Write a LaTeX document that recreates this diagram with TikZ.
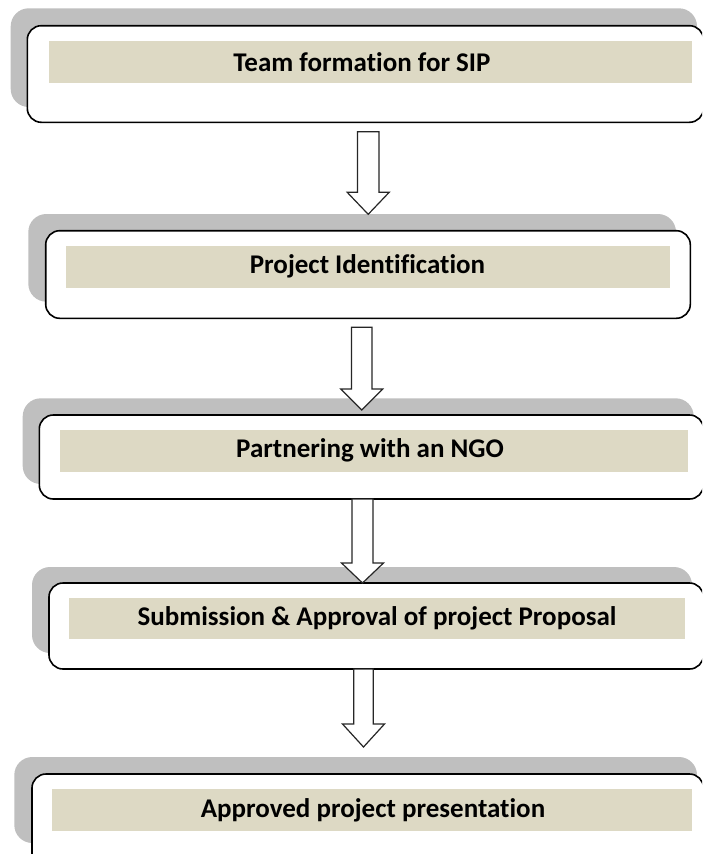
\documentclass[tikz,border=0pt]{standalone}
\usepackage{fontspec}
\setmainfont[Ligatures=NoCommon]{Carlito}
\usetikzlibrary{calc}
\definecolor{shade}{HTML}{BFBFBF}
\definecolor{band}{HTML}{DDD9C4}
\begin{document}
\begin{tikzpicture}[x=1pt,y=-1pt,
  shadowbox/.style={fill=shade, rounded corners=18pt},
  whitebox/.style={draw=black, line width=1.6pt, fill=white, rounded corners=14pt},
  bandbox/.style={fill=band, draw=none},
  steplabel/.style={font=\fontsize{27}{30}\selectfont\bfseries, text=black, inner sep=0pt},
  blockarrow/.style={draw=black!85, line width=1.2pt, fill=white, line join=miter}]
\useasboundingbox (0,0) rectangle (702,854);
\clip (0,0) rectangle (702,854);
\newcommand\blockdown[4]{% start, tip, head length, stem half
  \draw[blockarrow] let \p1=(#1), \p2=(#2) in
    (\x1-#4pt,\y1) -- (\x1+#4pt,\y1) -- (\x1+#4pt,\y2+#3pt) -- (\x1+21pt,\y2+#3pt)
    -- (\x2,\y2) -- (\x1-21pt,\y2+#3pt) -- (\x1-#4pt,\y2+#3pt) -- cycle;}
% ---------- box 1
\fill[shadowbox] (10.7,8.3) rectangle (697,107);
\draw[whitebox] (27.3,25.7) rectangle (703.5,122.3);
\node[bandbox, minimum width=643.7pt, minimum height=41.3pt, anchor=north west] (b1) at (48.3,41) {};
\node[steplabel] (t1) at (362,62) {Team formation for SIP};
% ---------- box 2
\fill[shadowbox] (28.3,214) rectangle (676,301.7);
\draw[whitebox] (45.7,230.7) rectangle (690.3,318.3);
\node[bandbox, minimum width=603.7pt, minimum height=42pt, anchor=north west] (b2) at (66,245.7) {};
\node[steplabel] (t2) at (367.5,266.7) {Project Identification};
% ---------- box 3
\fill[shadowbox] (22.7,398.3) rectangle (693.7,484);
\draw[whitebox] (39.3,415) rectangle (703.5,499);
\node[bandbox, minimum width=627.7pt, minimum height=42.4pt, anchor=north west] (b3) at (60,429.3) {};
\node[steplabel] (t3) at (370,450.5) {Partnering with an NGO};
% ---------- box 4
\fill[shadowbox] (32,567) rectangle (692,653);
\draw[whitebox] (49,583) rectangle (703.5,669);
\node[bandbox, minimum width=616pt, minimum height=41pt, anchor=north west] (b4) at (69,598) {};
\node[steplabel] (t4) at (377,618.5) {Submission \& Approval of project Proposal};
% ---------- box 5
\fill[shadowbox] (14.3,757) rectangle (697,843);
\draw[whitebox] (32,774) rectangle (703.5,880);
\node[bandbox, minimum width=640.5pt, minimum height=41.7pt, anchor=north west] (b5) at (51.5,789) {};
\node[steplabel] (t5) at (373,810) {Approved project presentation};
% ---------- arrows
\coordinate (a1s) at (368.2,131.7); \coordinate (a1e) at (368.2,214.3);
\coordinate (a2s) at (361.7,327.3); \coordinate (a2e) at (361.7,410);
\coordinate (a3s) at (362.5,499);   \coordinate (a3e) at (362.5,583);
\coordinate (a4s) at (363.5,669);   \coordinate (a4e) at (363.5,747);
\blockdown{a1s}{a1e}{22}{10.8}
\blockdown{a2s}{a2e}{21}{10.2}
\blockdown{a3s}{a3e}{20}{10.5}
\blockdown{a4s}{a4e}{23}{9.8}
\end{tikzpicture}
\end{document}
